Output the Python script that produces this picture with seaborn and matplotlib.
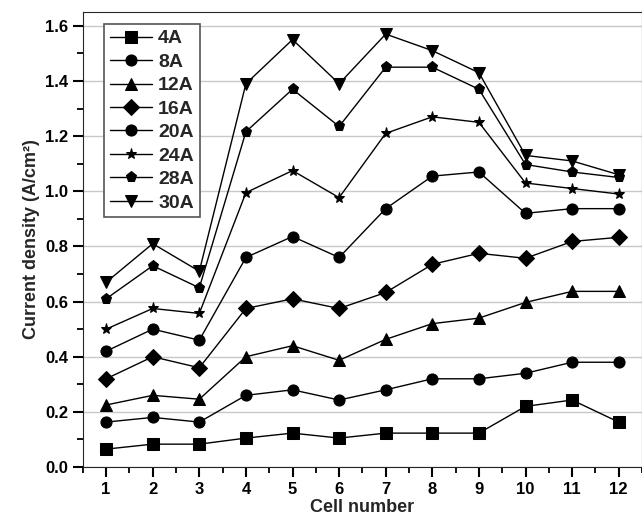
import numpy as np
import matplotlib
matplotlib.use("Agg")
import matplotlib.pyplot as plt
import seaborn as sns
from matplotlib.ticker import MultipleLocator, FormatStrFormatter

# dados
celulas = list(range(1, 13))
correntes = ['4A', '8A', '12A', '16A', '20A', '24A', '28A', '30A']

d_4A = [0.065, 0.083, 0.083, 0.105, 0.123, 0.105, 0.123, 0.123, 0.123, 0.22, 0.243, 0.163]
d_8A = [0.163, 0.18, 0.163, 0.26, 0.28, 0.243, 0.28, 0.32, 0.32, 0.34, 0.38, 0.38]
d_12A = [0.225, 0.26, 0.246, 0.40, 0.44, 0.387, 0.463, 0.52, 0.54, 0.597, 0.637, 0.637]
d_16A = [0.32, 0.40, 0.36, 0.575, 0.61, 0.575, 0.633, 0.735, 0.775, 0.757, 0.818, 0.833]
d_20A = [0.42, 0.50, 0.46, 0.76, 0.836, 0.76, 0.937, 1.055, 1.07, 0.92, 0.937, 0.937]
d_24A = [0.50, 0.575, 0.557, 0.995, 1.075, 0.977, 1.21, 1.27, 1.25, 1.03, 1.01, 0.99]
d_28A = [0.61, 0.73, 0.65, 1.216, 1.37, 1.235, 1.45, 1.45, 1.37, 1.097, 1.07, 1.05]
d_30A = [0.67, 0.81, 0.71, 1.39, 1.55, 1.39, 1.57, 1.51, 1.43, 1.13, 1.11, 1.06]

marcadores = ['s', 'o', '^', 'D', 'o', '*', 'p', 'v']
series = [d_4A, d_8A, d_12A, d_16A, d_20A, d_24A, d_28A, d_30A]

sns.set_style('ticks')
plt.rcParams['font.family'] = ['Liberation Sans', 'DejaVu Sans']

fig = plt.figure(figsize=(6.42, 5.23), dpi=100)
ax = fig.add_axes([0.129, 0.107, 0.871, 0.870])

# uma linha por corrente
for nome, valores, m in zip(correntes, series, marcadores):
    sns.lineplot(x=celulas, y=valores, marker=m, color='black', markersize=8,
                 markeredgecolor='black', linewidth=1.0, label=nome, ax=ax)

ax.set_xlim(0.5, 12.5)
ax.set_ylim(0.0, 1.65)
ax.xaxis.set_major_locator(MultipleLocator(1))
ax.xaxis.set_minor_locator(MultipleLocator(0.5))
ax.yaxis.set_major_locator(MultipleLocator(0.2))
ax.yaxis.set_minor_locator(MultipleLocator(0.1))
ax.yaxis.set_major_formatter(FormatStrFormatter('%.1f'))
ax.grid(axis='y', which='major', color='#c8c8c8', linewidth=1.0)

ax.tick_params(which='major', direction='out', length=7, width=1.5, labelsize=12,
               left=True, bottom=True, color='black', labelcolor='black')
ax.tick_params(which='minor', direction='out', length=4, width=1.3,
               left=True, bottom=True, color='black')

ax.set_xlabel('Cell number', fontsize=13, fontweight='bold', labelpad=2)
ax.set_ylabel('Current density (A/cm²)', fontsize=13, fontweight='bold', labelpad=4)

leg = ax.legend(loc='upper left', bbox_to_anchor=(0.02, 0.995),
                fancybox=False, edgecolor='#555555', framealpha=1,
                prop={'size': 14, 'weight': 'bold'}, handlelength=2.2,
                handletextpad=0.3, labelspacing=0.3, borderpad=0.3)
leg.get_frame().set_linewidth(1.2)

for lbl in ax.get_xticklabels() + ax.get_yticklabels():
    lbl.set_fontweight('bold')

fig.savefig('out.png', dpi=100)
